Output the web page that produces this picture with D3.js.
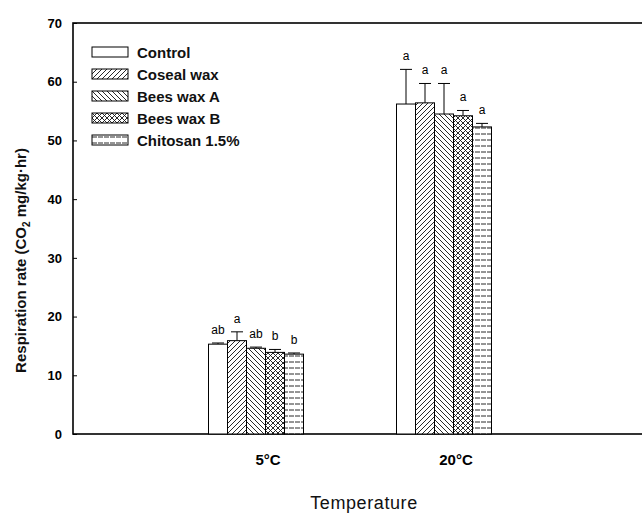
<!DOCTYPE html>
<html>
<head>
<meta charset="utf-8">
<script src="https://cdn.jsdelivr.net/npm/d3@7"></script>
<style>
  body { margin: 0; background: #fff; }
  text { font-family: "Liberation Sans", Arial, sans-serif; }
</style>
</head>
<body>
<div id="chart"></div>
<script>
// data
var temps = ["5°C", "20°C"];
var treatments = ["Control", "Coseal wax", "Bees wax A", "Bees wax B", "Chitosan 1.5%"];
var rate5 = [15.3, 15.9, 14.6, 13.9, 13.6];
var err5 = [0.2, 1.5, 0.2, 0.5, 0.2];
var letters5 = ["ab", "a", "ab", "b", "b"];
var rate20 = [56.2, 56.4, 54.5, 54.2, 52.3];
var err20 = [5.9, 3.3, 5.2, 0.9, 0.6];
var letters20 = ["a", "a", "a", "a", "a"];
var yTicks = [0, 10, 20, 30, 40, 50, 60, 70];

var svgWidth = 642;
var svgHeight = 515;

var margin = { top: 23, right: -10, bottom: 81, left: 73 };
var width = svgWidth - margin.left - margin.right;
var height = svgHeight - margin.top - margin.bottom;

var svg = d3.select("#chart")
  .append("svg")
  .attr("width", svgWidth)
  .attr("height", svgHeight);

// hatch patterns
var defs = svg.append("defs");

function addPattern(id, pathD, size, dash) {
  var p = defs.append("pattern")
    .attr("id", id)
    .attr("patternUnits", "userSpaceOnUse")
    .attr("width", size)
    .attr("height", size);
  p.append("rect").attr("width", size).attr("height", size).attr("fill", "#fff");
  p.append("path")
    .attr("d", pathD)
    .attr("stroke", "#111")
    .attr("stroke-width", 0.9)
    .attr("stroke-dasharray", dash || null)
    .attr("fill", "none");
}
addPattern("p-fwd", "M0,5 L5,0 M-1,1 L1,-1 M4,6 L6,4", 5);
addPattern("p-back", "M0,0 L5,5 M-1,4 L1,6 M4,-1 L6,1", 5);
addPattern("p-cross", "M0,5 L5,0 M-1,1 L1,-1 M4,6 L6,4 M0,0 L5,5 M-1,4 L1,6 M4,-1 L6,1", 5);
addPattern("p-horiz", "M0,3 L6,3", 6, "5,1");

var fills = ["#fff", "url(#p-fwd)", "url(#p-back)", "url(#p-cross)", "url(#p-horiz)"];

var chartGroup = svg.append("g")
  .attr("transform", `translate(${margin.left}, ${margin.top})`);

// scales
var yLinearScale = d3.scaleLinear().domain([0, 70]).range([height, 0]);

var xScale = d3.scalePoint()
  .domain(temps)
  .range([195, 383]);

var groupOffset = -12;   // bar groups sit a little left of the category labels
var xInner = d3.scaleBand()
  .domain(treatments)
  .range([-47.5, 47.5])
  .paddingInner(0);

// frame
chartGroup.append("rect")
  .attr("x", 0)
  .attr("y", 0)
  .attr("width", width)
  .attr("height", height)
  .attr("fill", "none")
  .attr("stroke", "#000")
  .attr("stroke-width", 1.6);

// y axis
var leftAxis = d3.axisLeft(yLinearScale)
  .tickValues(yTicks)
  .tickSize(-4)
  .tickPadding(11);

var yAxis = chartGroup.append("g").call(leftAxis);
yAxis.select(".domain").remove();
yAxis.selectAll(".tick line").attr("stroke", "#000").attr("stroke-width", 1);
yAxis.selectAll("text")
  .attr("font-size", "13px")
  .attr("font-weight", "bold")
  .attr("fill", "#000");

// x category labels
chartGroup.selectAll(".xlabel")
  .data(temps)
  .enter()
  .append("text")
  .attr("class", "xlabel")
  .attr("x", d => xScale(d))
  .attr("y", height + 31)
  .attr("text-anchor", "middle")
  .attr("font-size", "15px")
  .attr("font-weight", "bold")
  .attr("fill", "#000")
  .text(d => d);

// build rows for bars
var groups = [
  { temp: temps[0], vals: rate5, errs: err5, letters: letters5 },
  { temp: temps[1], vals: rate20, errs: err20, letters: letters20 }
];
var rows = [];
groups.forEach(function(g) {
  treatments.forEach(function(t, i) {
    rows.push({ temp: g.temp, treat: t, idx: i, value: g.vals[i], err: g.errs[i], letter: g.letters[i] });
  });
});

function barX(d) {
  return xScale(d.temp) + groupOffset + xInner(d.treat);
}

// error bars (upper half only)
var errGroup = chartGroup.append("g");
errGroup.selectAll("line.ev")
  .data(rows)
  .enter()
  .append("line")
  .attr("x1", d => barX(d) + xInner.bandwidth() / 2)
  .attr("x2", d => barX(d) + xInner.bandwidth() / 2)
  .attr("y1", d => yLinearScale(d.value))
  .attr("y2", d => yLinearScale(d.value + d.err))
  .attr("stroke", "#000")
  .attr("stroke-width", 1);
errGroup.selectAll("line.cap")
  .data(rows)
  .enter()
  .append("line")
  .attr("x1", d => barX(d) + xInner.bandwidth() / 2 - 6)
  .attr("x2", d => barX(d) + xInner.bandwidth() / 2 + 6)
  .attr("y1", d => yLinearScale(d.value + d.err))
  .attr("y2", d => yLinearScale(d.value + d.err))
  .attr("stroke", "#000")
  .attr("stroke-width", 1);

// bars
chartGroup.selectAll("rect.bar")
  .data(rows)
  .enter()
  .append("rect")
  .attr("class", "bar")
  .attr("x", d => barX(d))
  .attr("y", d => yLinearScale(d.value))
  .attr("width", xInner.bandwidth())
  .attr("height", d => height - yLinearScale(d.value))
  .attr("fill", d => fills[d.idx])
  .attr("stroke", "#000")
  .attr("stroke-width", 1);

// significance letters
chartGroup.selectAll("text.sig")
  .data(rows)
  .enter()
  .append("text")
  .attr("class", "sig")
  .attr("x", d => barX(d) + xInner.bandwidth() / 2)
  .attr("y", d => yLinearScale(d.value + d.err) - 9)
  .attr("text-anchor", "middle")
  .attr("font-size", "12px")
  .attr("fill", "#000")
  .text(d => d.letter);

// axis titles
svg.append("text")
  .attr("transform", `translate(26, ${margin.top + height / 2 + 32}) rotate(-90)`)
  .attr("text-anchor", "middle")
  .attr("font-size", "15px")
  .attr("font-weight", "bold")
  .attr("fill", "#111")
  .html('Respiration rate (CO<tspan font-size="10px" dy="4">2</tspan><tspan dy="-4"> mg/kg·hr)</tspan>');

svg.append("text")
  .attr("x", 364)
  .attr("y", 509)
  .attr("text-anchor", "middle")
  .attr("font-size", "18px")
  .attr("letter-spacing", "0.6px")
  .attr("fill", "#111")
  .text("Temperature");

// legend
var legend = chartGroup.append("g")
  .attr("transform", "translate(19, 29)");

var legendRows = legend.selectAll("g")
  .data(treatments)
  .enter()
  .append("g")
  .attr("transform", (d, i) => `translate(0, ${i * 22})`);

legendRows.append("rect")
  .attr("x", 0)
  .attr("y", -5)
  .attr("width", 36)
  .attr("height", 10)
  .attr("fill", (d, i) => fills[i])
  .attr("stroke", "#000")
  .attr("stroke-width", 1);

legendRows.append("text")
  .attr("x", 45)
  .attr("y", 5.5)
  .attr("font-size", "15px")
  .attr("font-weight", "bold")
  .attr("fill", "#111")
  .text(d => d);
</script>
</body>
</html>
